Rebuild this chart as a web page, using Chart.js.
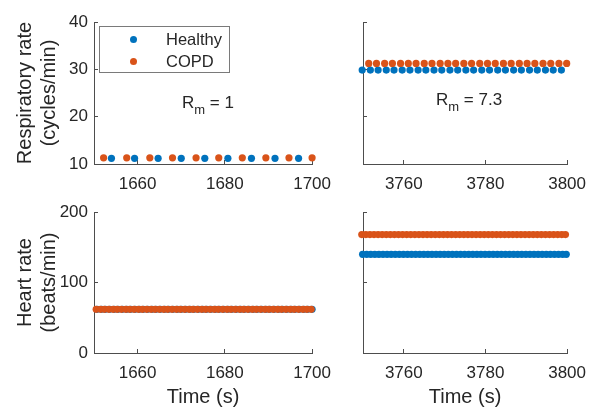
<!DOCTYPE html>
<html>
<head>
<meta charset="utf-8">
<script src="https://cdn.jsdelivr.net/npm/chart.js@4.4.1/dist/chart.umd.min.js"></script>
<style>
    body { margin: 0; background: #fff; font-family: "Liberation Sans", Arial, sans-serif; }
    #wrap { position: relative; width: 600px; height: 408px; overflow: hidden; background: #fff; }
    #wrap canvas { position: absolute; }
    .note { position: absolute; font-size: 17px; line-height: 17px; color: #262626; white-space: nowrap; }
    .note sub { font-size: 13px; line-height: 0; vertical-align: -6px; }
    #legend { position: absolute; left: 99px; top: 26px; width: 129px; height: 45px; border: 1px solid #7a7a7a; background: #fff; }
    #legend .dot { position: absolute; left: 30px; width: 7px; height: 7px; border-radius: 50%; }
    #legend .lab { position: absolute; left: 66px; font-size: 16.5px; line-height: 17px; color: #262626; }
</style>
</head>
<body>
<div id="wrap">
    <canvas id="rrLow" width="345" height="200" style="left:0;top:0"></canvas>
    <canvas id="rrHigh" width="260" height="200" style="left:340px;top:0"></canvas>
    <canvas id="hrLow" width="345" height="218" style="left:0;top:190px"></canvas>
    <canvas id="hrHigh" width="260" height="218" style="left:340px;top:190px"></canvas>

    <div id="legend">
        <div class="dot" style="top:9px;background:#0072BD"></div>
        <div class="lab" style="top:4px">Healthy</div>
        <div class="dot" style="top:31px;background:#D95319"></div>
        <div class="lab" style="top:26px">COPD</div>
    </div>
    <div class="note" style="left:182px;top:94px">R<sub>m</sub> = 1</div>
    <div class="note" style="left:436px;top:91px">R<sub>m</sub> = 7.3</div>
</div>

<script>
    // Respiratory rate, R_m = 1 window (1650-1700 s)
    const rrLowHealthyTime = [1654.0, 1659.3, 1664.7, 1670.0, 1675.4, 1680.7, 1686.1, 1691.5, 1696.9];
    const rrLowHealthyRate = 11.2;
    const rrLowCopdTime = [1652.2, 1657.5, 1662.8, 1668.0, 1673.4, 1678.6, 1684.0, 1689.4, 1694.7, 1700.0];
    const rrLowCopdRate = 11.3;

    // Respiratory rate, R_m = 7.3 window (3750-3800 s)
    const rrHighHealthyTime = [3749.8, 3751.8, 3753.7, 3755.7, 3757.6, 3759.6, 3761.5, 3763.5, 3765.4, 3767.4,
        3769.3, 3771.3, 3773.2, 3775.2, 3777.1, 3779.1, 3781.0, 3783.0, 3784.9, 3786.9,
        3788.8, 3790.8, 3792.7, 3794.7, 3796.6, 3798.6];
    const rrHighHealthyRate = 29.85;
    const rrHighCopdTime = [3751.4, 3753.3, 3755.3, 3757.2, 3759.2, 3761.1, 3763.0, 3765.0, 3766.9, 3768.9,
        3770.8, 3772.7, 3774.7, 3776.6, 3778.6, 3780.5, 3782.4, 3784.4, 3786.3, 3788.3,
        3790.2, 3792.1, 3794.1, 3796.0, 3798.0, 3799.9];
    const rrHighCopdRate = 31.25;

    // Heart rate, R_m = 1 window
    const hrLowHealthyTime = [1650.7, 1651.7, 1652.6, 1653.6, 1654.6, 1655.5, 1656.5, 1657.5, 1658.4, 1659.4,
        1660.4, 1661.3, 1662.3, 1663.3, 1664.2, 1665.2, 1666.2, 1667.1, 1668.1, 1669.1,
        1670.0, 1671.0, 1672.0, 1672.9, 1673.9, 1674.9, 1675.8, 1676.8, 1677.8, 1678.7,
        1679.7, 1680.7, 1681.6, 1682.6, 1683.6, 1684.5, 1685.5, 1686.5, 1687.4, 1688.4,
        1689.4, 1690.3, 1691.3, 1692.3, 1693.2, 1694.2, 1695.2, 1696.1, 1697.1, 1698.1,
        1699.0, 1700.0];
    const hrLowHealthyRate = 62;
    const hrLowCopdTime = [1650.5, 1651.5, 1652.4, 1653.4, 1654.4, 1655.3, 1656.3, 1657.3, 1658.2, 1659.2,
        1660.2, 1661.1, 1662.1, 1663.1, 1664.0, 1665.0, 1666.0, 1666.9, 1667.9, 1668.9,
        1669.8, 1670.8, 1671.8, 1672.7, 1673.7, 1674.7, 1675.6, 1676.6, 1677.6, 1678.5,
        1679.5, 1680.5, 1681.4, 1682.4, 1683.4, 1684.3, 1685.3, 1686.3, 1687.2, 1688.2,
        1689.2, 1690.1, 1691.1, 1692.1, 1693.0, 1694.0, 1695.0, 1695.9, 1696.9, 1697.9,
        1698.8, 1699.8];
    const hrLowCopdRate = 62;

    // Heart rate, R_m = 7.3 window
    const hrHighHealthyTime = [3749.9, 3750.9, 3751.9, 3752.9, 3753.9, 3754.9, 3755.9, 3756.9, 3757.9, 3758.9,
        3759.9, 3760.9, 3761.9, 3762.9, 3763.9, 3764.9, 3765.9, 3766.9, 3767.9, 3768.9,
        3769.9, 3770.9, 3771.9, 3772.9, 3773.9, 3774.9, 3775.9, 3776.9, 3777.9, 3778.9,
        3779.9, 3780.9, 3781.9, 3782.9, 3783.9, 3784.9, 3785.9, 3786.9, 3787.9, 3788.9,
        3789.9, 3790.9, 3791.9, 3792.9, 3793.9, 3794.9, 3795.9, 3796.9, 3797.9, 3798.9,
        3799.8];
    const hrHighHealthyRate = 140;
    const hrHighCopdTime = [3749.7, 3750.7, 3751.7, 3752.7, 3753.7, 3754.7, 3755.7, 3756.7, 3757.7, 3758.7,
        3759.7, 3760.7, 3761.7, 3762.7, 3763.7, 3764.7, 3765.7, 3766.7, 3767.7, 3768.7,
        3769.7, 3770.7, 3771.7, 3772.7, 3773.7, 3774.7, 3775.7, 3776.7, 3777.7, 3778.7,
        3779.7, 3780.7, 3781.7, 3782.7, 3783.7, 3784.7, 3785.7, 3786.7, 3787.7, 3788.7,
        3789.7, 3790.7, 3791.7, 3792.7, 3793.7, 3794.7, 3795.7, 3796.7, 3797.7, 3798.7,
        3799.6];
    const hrHighCopdRate = 168;

    // Axis ticks
    const xTicksLow = [1660, 1680, 1700];
    const xTicksHigh = [3760, 3780, 3800];
    const rrTicks = [10, 20, 30, 40];
    const hrTicks = [0, 100, 200];

    const blue = '#0072BD';
    const orange = '#D95319';
    const axisColor = '#4d4d4d';
    const textColor = '#262626';
    const fontFamily = '"Liberation Sans", Arial, sans-serif';

    function points(times, rate) {
        return times.map(t => ({ x: t, y: rate }));
    }

    function makePanel(id, cfg) {
        const ctx = document.getElementById(id).getContext('2d');
        return new Chart(ctx, {
            type: 'scatter',
            data: {
                datasets: [{
                    label: 'Healthy',
                    data: points(cfg.healthyTime, cfg.healthyRate),
                    backgroundColor: blue,
                    pointRadius: 3.6,
                    pointBorderWidth: 0,
                    clip: false,
                    order: 2
                }, {
                    label: 'COPD',
                    data: points(cfg.copdTime, cfg.copdRate),
                    backgroundColor: orange,
                    pointRadius: 3.6,
                    pointBorderWidth: 0,
                    clip: false,
                    order: 1
                }]
            },
            options: {
                responsive: false,
                animation: false,
                layout: {
                    padding: { left: 0, right: cfg.padRight, top: 22, bottom: 0 }
                },
                plugins: {
                    legend: { display: false },
                    tooltip: { enabled: false }
                },
                scales: {
                    x: {
                        type: 'linear',
                        min: cfg.xMin,
                        max: cfg.xMax,
                        afterBuildTicks: scale => { scale.ticks = cfg.xTicks.map(v => ({ value: v })); },
                        afterFit: scale => { scale.height = cfg.xHeight; },
                        grid: { drawOnChartArea: false, tickLength: -4, color: axisColor },
                        border: { color: axisColor },
                        ticks: {
                            padding: 14,
                            maxRotation: 0,
                            color: textColor,
                            font: { family: fontFamily, size: 17 },
                            callback: v => String(v)
                        },
                        title: {
                            display: cfg.xTitle,
                            text: 'Time (s)',
                            color: textColor,
                            padding: { top: 0, bottom: 0 },
                            font: { family: fontFamily, size: 20, lineHeight: 1.1 }
                        }
                    },
                    y: {
                        type: 'linear',
                        min: cfg.yMin,
                        max: cfg.yMax,
                        afterBuildTicks: scale => { scale.ticks = cfg.yTicks.map(v => ({ value: v })); },
                        afterFit: scale => { scale.width = cfg.yWidth; },
                        grid: { drawOnChartArea: false, tickLength: -4, color: axisColor },
                        border: { color: axisColor },
                        ticks: {
                            display: cfg.yLabels,
                            padding: 10,
                            color: textColor,
                            font: { family: fontFamily, size: 17 },
                            callback: v => String(v)
                        },
                        title: {
                            display: !!cfg.yTitle,
                            text: cfg.yTitle || '',
                            color: textColor,
                            padding: { top: 13, bottom: 0 },
                            font: { family: fontFamily, size: 20, lineHeight: 1.2 }
                        }
                    }
                }
            }
        });
    }

    makePanel('rrLow', {
        healthyTime: rrLowHealthyTime, healthyRate: rrLowHealthyRate,
        copdTime: rrLowCopdTime, copdRate: rrLowCopdRate,
        xMin: 1650, xMax: 1700, xTicks: xTicksLow, xHeight: 36, xTitle: false,
        yMin: 10, yMax: 40, yTicks: rrTicks, yWidth: 94, yLabels: true,
        yTitle: ['Respiratory rate', '(cycles/min)'], padRight: 29
    });

    makePanel('rrHigh', {
        healthyTime: rrHighHealthyTime, healthyRate: rrHighHealthyRate,
        copdTime: rrHighCopdTime, copdRate: rrHighCopdRate,
        xMin: 3750, xMax: 3800, xTicks: xTicksHigh, xHeight: 36, xTitle: false,
        yMin: 10, yMax: 40, yTicks: rrTicks, yWidth: 23, yLabels: false,
        yTitle: null, padRight: 20
    });

    makePanel('hrLow', {
        healthyTime: hrLowHealthyTime, healthyRate: hrLowHealthyRate,
        copdTime: hrLowCopdTime, copdRate: hrLowCopdRate,
        xMin: 1650, xMax: 1700, xTicks: xTicksLow, xHeight: 55, xTitle: true,
        yMin: 0, yMax: 200, yTicks: hrTicks, yWidth: 94, yLabels: true,
        yTitle: ['Heart rate', '(beats/min)'], padRight: 29
    });

    makePanel('hrHigh', {
        healthyTime: hrHighHealthyTime, healthyRate: hrHighHealthyRate,
        copdTime: hrHighCopdTime, copdRate: hrHighCopdRate,
        xMin: 3750, xMax: 3800, xTicks: xTicksHigh, xHeight: 55, xTitle: true,
        yMin: 0, yMax: 200, yTicks: hrTicks, yWidth: 23, yLabels: false,
        yTitle: null, padRight: 20
    });
</script>
</body>
</html>
